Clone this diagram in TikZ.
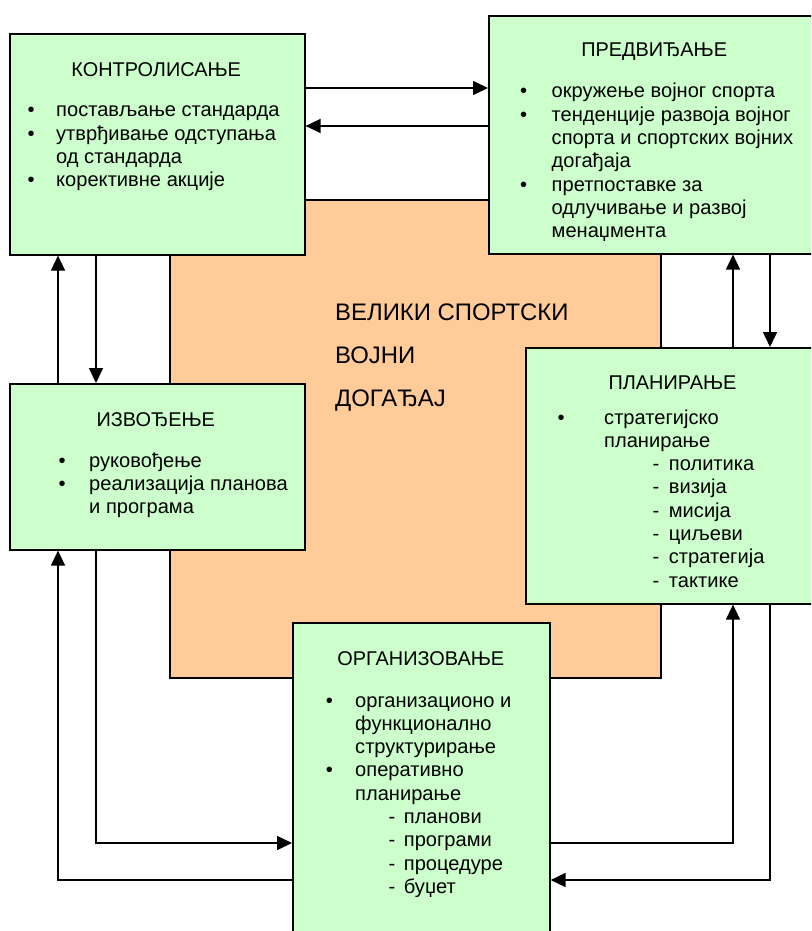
\documentclass[tikz,border=0pt]{standalone}
\usepackage{fontspec}
\setmainfont{Liberation Sans}
\usetikzlibrary{arrows.meta}
\definecolor{stagegreen}{HTML}{CCFFCC}
\definecolor{eventtan}{HTML}{FFCC99}
\newcommand{\boxfont}{\fontsize{20.1}{23.3}\selectfont}
\newcommand{\titlefont}{\fontsize{19.9}{23.3}\selectfont}
\newcommand{\bigfont}{\fontsize{23.9}{43.3}\selectfont}
\newcommand{\crta}[2]{\hspace*{#1}-\hspace{#2}}
\tikzset{
  stage/.style={draw=black, line width=1.6pt, fill=stagegreen, inner sep=0pt, anchor=north west},
  arr/.style={line width=1.6pt, -{Triangle[length=15pt,width=14pt]}},
  title/.style={anchor=base, inner sep=0pt, font=\titlefont},
  items/.style={anchor=base west, inner sep=0pt, font=\boxfont}
}

\begin{document}
\begin{tikzpicture}[x=1pt,y=-1pt]
\useasboundingbox (0,0) rectangle (811,931);
\clip (0,0) rectangle (811,931);
\node[stage, fill=eventtan, minimum width=491pt, minimum height=478pt] (dogadjaj) at (169,199) {};
\node[anchor=base west, inner sep=0pt, font=\bigfont] (naslov) at (335,320) {\begin{tabular}[t]{@{}l@{}}ВЕЛИКИ СПОРТСКИ\\ ВОЈНИ\\ ДОГАЂАЈ\end{tabular}};

\node[stage, minimum width=295pt, minimum height=221pt] (kontrola) at (9,33) {};
\node[stage, minimum width=340pt, minimum height=238pt] (predvid) at (488,15) {};
\node[stage, minimum width=295pt, minimum height=166pt] (izvod) at (9,383) {};
\node[stage, minimum width=300pt, minimum height=256pt] (plan) at (525,347) {};
\node[stage, minimum width=257pt, minimum height=330pt] (organiz) at (292,622) {};

\node[title] (kontrola-t) at (156.2,76.7) {КОНТРОЛИСАЊЕ};
\node[items] (kontrola-l) at (27.3,117) {\begin{tabular}[t]{@{}p{28.7pt}@{}l@{}}
\textbullet & постављање стандарда\\
\textbullet & утврђивање одступања\\
 & од стандарда\\
\textbullet & корективне акције
\end{tabular}};

\node[title] (predvid-t) at (654.2,57) {ПРЕДВИЂАЊЕ};
\node[items] (predvid-l) at (519.9,98) {\begin{tabular}[t]{@{}p{31.6pt}@{}l@{}}
\textbullet & окружење војног спорта\\
\textbullet & тенденције развоја војног\\
 & спорта и спортских војних\\
 & догађаја\\
\textbullet & претпоставке за\\
 & одлучивање и развој\\
 & менаџмента
\end{tabular}};

\node[title] (izvod-t) at (155.8,426) {ИЗВОЂЕЊЕ};
\node[items] (izvod-l) at (58.3,467) {\begin{tabular}[t]{@{}p{30.7pt}@{}l@{}}
\textbullet & руковођење\\
\textbullet & реализација планова\\
 & и програма
\end{tabular}};

\node[title] (plan-t) at (672.5,389) {ПЛАНИРАЊЕ};
\node[items] (plan-l) at (557.3,424) {\begin{tabular}[t]{@{}p{46.7pt}@{}l@{}}
\textbullet & стратегијско\\
 & планирање\\
 & \crta{48.4pt}{9.6pt}политика\\
 & \crta{48.4pt}{9.6pt}визија\\
 & \crta{48.4pt}{9.6pt}мисија\\
 & \crta{48.4pt}{9.6pt}циљеви\\
 & \crta{48.4pt}{9.6pt}стратегија\\
 & \crta{48.4pt}{9.6pt}тактике
\end{tabular}};

\node[title] (organiz-t) at (420.8,665) {ОРГАНИЗОВАЊЕ};
\node[items] (organiz-l) at (325.6,707) {\begin{tabular}[t]{@{}p{29.4pt}@{}l@{}}
\textbullet & организационо и\\
 & функционално\\
 & структурирање\\
\textbullet & оперативно\\
 & планирање\\
 & \crta{33.4pt}{8.6pt}планови\\
 & \crta{33.4pt}{8.6pt}програми\\
 & \crta{33.4pt}{8.6pt}процедуре\\
 & \crta{33.4pt}{8.6pt}буџет
\end{tabular}};

\draw[arr] (kontrola.east |- 0,88) -- (predvid.west |- 0,88);
\draw[arr] (predvid.west |- 0,126) -- (kontrola.east |- 0,126);
\draw[arr] (izvod.north -| 58,0) -- (kontrola.south -| 58,0);
\draw[arr] (kontrola.south -| 96,0) -- (izvod.north -| 96,0);
\draw[arr] (plan.north -| 733,0) -- (predvid.south -| 733,0);
\draw[arr] (predvid.south -| 770,0) -- (plan.north -| 770,0);
\draw[arr] (organiz.west |- 0,880) -| (izvod.south -| 58,0);
\draw[arr] (izvod.south -| 96,0) |- (organiz.west |- 0,843);
\draw[arr] (organiz.east |- 0,843) -| (plan.south -| 733,0);
\draw[arr] (plan.south -| 770,0) |- (organiz.east |- 0,880);
\end{tikzpicture}
\end{document}
